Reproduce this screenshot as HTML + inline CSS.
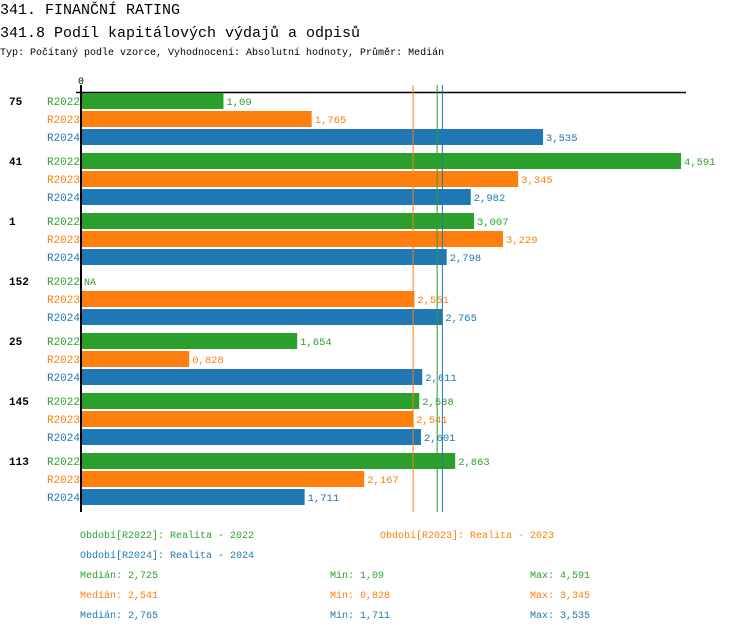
<!DOCTYPE html>
<html><head><meta charset="utf-8"><style>
body{margin:0;background:#fff;width:750px;height:632px;overflow:hidden;font-family:"Liberation Mono",monospace}
</style></head><body>
<svg id="c" width="750" height="632" xmlns="http://www.w3.org/2000/svg" font-family="Liberation Mono, monospace">
<text x="0" y="14" font-size="15">341. FINANČNÍ RATING</text>
<text x="0" y="37" font-size="15">341.8 Podíl kapitálových výdajů a odpisů</text>
<text x="0" y="55" font-size="10">Typ: Počítaný podle vzorce, Vyhodnocení: Absolutní hodnoty, Průměr: Medián</text>
<g id="plot"></g>
<g id="legend" font-size="10"></g>
</svg>
<script>
const groups=["75","41","1","152","25","145","113"];
const series=["R2022","R2023","R2024"];
const colors=["#2ca02c","#ff7f0e","#1f77b4"];
const v2022=[1.09,4.591,3.007,null,1.654,2.588,2.863];
const v2023=[1.765,3.345,3.229,2.551,0.828,2.541,2.167];
const v2024=[3.535,2.982,2.798,2.765,2.611,2.601,1.711];
const medians=[2.725,2.541,2.765];
const mins=["1,09","0,828","1,711"];
const maxs=["4,591","3,345","3,535"];
const values=[v2022,v2023,v2024];
const NS="http://www.w3.org/2000/svg";
const x0=81,k=130.7;
const xs=v=>x0+v*k;
const gy=i=>93+i*60;
const plot=document.getElementById('plot');
function mk(t,a,p){const e=document.createElementNS(NS,t);for(const q in a)e.setAttribute(q,a[q]);p.appendChild(e);return e;}
const fmt=v=>String(v).replace('.',',');
let l=mk('line',{x1:76,y1:92.5,x2:686,y2:92.5,stroke:'#000','stroke-width':1.5},plot);


let z=mk('text',{x:78,y:84,'font-size':10},plot);z.textContent='0';


groups.forEach((g,i)=>{
  let t=mk('text',{x:9,y:gy(i)+12,'font-size':11,'font-weight':'bold'},plot);t.textContent=g;
  
  
  series.forEach((s,j)=>{
    const y=gy(i)+j*18;
    let sl=mk('text',{x:80,y:y+12,'font-size':11,fill:colors[j],'text-anchor':'end'},plot);sl.textContent=s;
    
    
    const v=values[j][i];
    if(v==null){let na=mk('text',{x:84,y:y+12,'font-size':10,fill:colors[j]},plot);na.textContent='NA';
      
      return;}
    let r=mk('rect',{x:x0,y:y,width:xs(v)-x0,height:16,fill:colors[j]},plot);
    
    
    let vl=mk('text',{x:xs(v)+3,y:y+12,'font-size':10.5,fill:colors[j]},plot);vl.textContent=fmt(v);
    
    
  });
});
medians.forEach((m,j)=>{
  let ml=mk('line',{x1:xs(m),y1:85,x2:xs(m),y2:512,stroke:colors[j],'stroke-width':1},plot);
  
  
});
let ax=mk('line',{x1:81,y1:85,x2:81,y2:512,stroke:'#000','stroke-width':2},plot);


const lg=document.getElementById('legend');
const items=[[80,538,'Období[R2022]: Realita - 2022',0],[380,538,'Období[R2023]: Realita - 2023',1],[80,558,'Období[R2024]: Realita - 2024',2]];
items.forEach(it=>{let t=mk('text',{x:it[0],y:it[1],fill:colors[it[3]]},lg);t.textContent=it[2];
  
  });
series.forEach((s,j)=>{
  const y=578+j*20;
  let a=mk('text',{x:80,y:y,fill:colors[j]},lg);a.textContent='Medián: '+fmt(medians[j]);
  
  
  let b=mk('text',{x:330,y:y,fill:colors[j]},lg);b.textContent='Min: '+mins[j];
  
  
  let c=mk('text',{x:530,y:y,fill:colors[j]},lg);c.textContent='Max: '+maxs[j];
  
  
});
</script>
</body></html>
